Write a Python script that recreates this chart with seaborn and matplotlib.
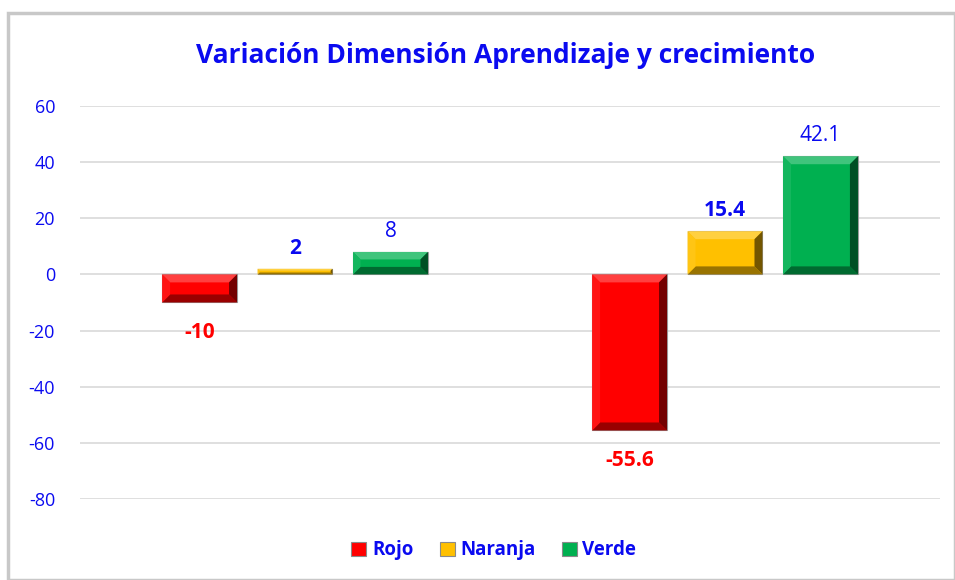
import matplotlib.pyplot as plt
import matplotlib.patches as mpatches
from matplotlib.transforms import IdentityTransform
import seaborn as sns
import numpy as np
import pandas as pd

# datos
grupos = ["G1", "G2"]
series = ["Rojo", "Naranja", "Verde"]
rojo = [-10, -55.6]
naranja = [2, 15.4]
verde = [8, 42.1]
colores = ["#FF0000", "#FFC000", "#00B050"]
y_ticks = [-80, -60, -40, -20, 0, 20, 40, 60]

df = pd.DataFrame({
    "grupo": grupos * 3,
    "serie": np.repeat(series, len(grupos)),
    "valor": rojo + naranja + verde,
})

sns.set_theme(style="white")
plt.rcParams['font.family'] = ['Open Sans', 'DejaVu Sans']
azul = "#0A0AF0"

fig = plt.figure(figsize=(9.55, 5.8), dpi=100)
ax = fig.add_axes([0.0838, 0.1397, 0.9005, 0.6776])

sns.barplot(data=df, x="grupo", y="valor", hue="serie", hue_order=series,
            palette=colores, saturation=1, width=0.666, gap=0.215, ax=ax, legend=False,
            edgecolor="#9a9a9a", linewidth=0.8, zorder=3)

ax.set_ylim(-80, 60)
ax.set_yticks(y_ticks)
ax.set_yticklabels([str(t) for t in y_ticks], color=azul, fontsize=13)
ax.tick_params(axis="y", length=0, pad=18)
ax.set_xticks([])
ax.set_xlabel("")
ax.set_ylabel("")
ax.grid(axis="y", color="#D9D9D9", linewidth=1.2, zorder=0)
for s in ax.spines.values():
    s.set_visible(False)


def mezcla(c, otro, f):
    c = np.array(c[:3])
    return tuple(c * (1 - f) + np.array(otro) * f)


# efecto bisel a partir de las barras dibujadas
for p in list(ax.patches):
    x0, y0 = ax.transData.transform((p.get_x(), p.get_y()))
    x1, y1 = ax.transData.transform((p.get_x() + p.get_width(), p.get_y() + p.get_height()))
    xa, xb = min(x0, x1), max(x0, x1)
    ya, yb = min(y0, y1), max(y0, y1)
    b = min(8, (yb - ya) / 3, (xb - xa) / 3)
    fc = p.get_facecolor()
    caras = [
        ([(xa, yb), (xb, yb), (xb - b, yb - b), (xa + b, yb - b)], mezcla(fc, (1, 1, 1), 0.25)),
        ([(xa, ya), (xb, ya), (xb - b, ya + b), (xa + b, ya + b)], mezcla(fc, (0, 0, 0), 0.4)),
        ([(xa, ya), (xa, yb), (xa + b, yb - b), (xa + b, ya + b)], mezcla(fc, (1, 1, 1), 0.08)),
        ([(xb, ya), (xb, yb), (xb - b, yb - b), (xb - b, ya + b)], mezcla(fc, (0, 0, 0), 0.55)),
    ]
    for pts, col in caras:
        ax.add_patch(mpatches.Polygon(pts, closed=True, transform=IdentityTransform(),
                                      facecolor=col, edgecolor="none", zorder=4))

# etiquetas de datos
estilos = {"Rojo": ("#FF0000", "bold"), "Naranja": (azul, "bold"), "Verde": (azul, "normal")}
for cont, serie in zip(ax.containers, series):
    col, peso = estilos[serie]
    for rect, v in zip(cont, df[df.serie == serie].valor):
        cx = rect.get_x() + rect.get_width() / 2
        if v >= 0:
            ax.annotate(f"{v:g}", (cx, v), xytext=(0, 7), textcoords="offset points",
                        ha="center", va="bottom", fontsize=15, color=col, fontweight=peso)
        else:
            ax.annotate(f"{v:g}", (cx, v), xytext=(0, -14), textcoords="offset points",
                        ha="center", va="top", fontsize=15, color=col, fontweight=peso)

fig.text(0.529, 0.905, "Variación Dimensión Aprendizaje y crecimiento", ha="center",
         va="center", fontsize=19, fontweight="bold", color=azul)

handles = [mpatches.Patch(facecolor=c, edgecolor="#8a8a8a", linewidth=0.8) for c in colores]
leg = fig.legend(handles, series, loc="center", bbox_to_anchor=(0.517, 0.051), ncol=3,
                 frameon=False, handlelength=0.8, handleheight=0.8, handletextpad=0.3,
                 columnspacing=1.4, prop={"size": 13.5, "weight": "bold"})
for t in leg.get_texts():
    t.set_color(azul)

# marco del gráfico
fig.patches.append(mpatches.Rectangle((0.008, 0.0), 0.992, 0.978, transform=fig.transFigure,
                                      fill=False, edgecolor="#C8C8C8", linewidth=2.5))

fig.savefig("out.png", dpi=100)
